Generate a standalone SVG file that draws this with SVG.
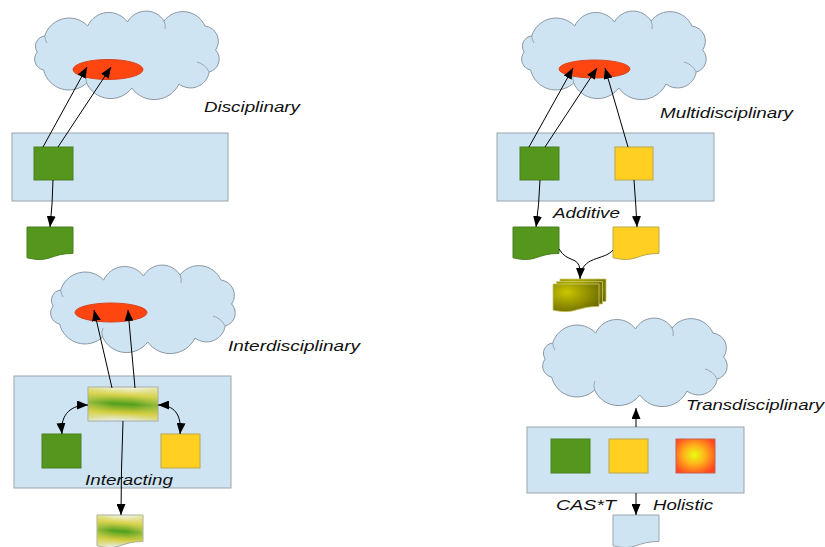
<svg xmlns="http://www.w3.org/2000/svg" xmlns:xlink="http://www.w3.org/1999/xlink" width="825" height="547" viewBox="0 0 825 547">
  <style>
    .cloud { fill: #cfe4f3; stroke: #8a97a3; stroke-width: 1; }
    .crease { fill: none; stroke: #8a97a3; stroke-width: 0.8; }
    .panel { fill: #cfe4f2; stroke: #9aa4ad; stroke-width: 1; }
    .core { fill: #ff4510; stroke: #d9441c; stroke-width: 1; }
    .green { fill: #55971d; stroke: #4b8020; stroke-width: 1; }
    .yellow { fill: #ffd022; stroke: #b9a64c; stroke-width: 1; }
    .hot { fill: url(#hotGrad); stroke: #c9604a; stroke-width: 1; }
    .mixed { fill: url(#mixGrad); stroke: #a4aaa6; stroke-width: 1; }
    .mixedEdge { fill: url(#mixEdge); stroke: none; }
    .plain { fill: #cfe4f2; stroke: #9aa4ad; stroke-width: 1; }
    .stack { fill: url(#oliveGrad); stroke: #c9c96a; stroke-width: 0.8; }
    .link { fill: none; stroke: #000; stroke-width: 1; }
    .label { font-family: "Liberation Sans", Arial, sans-serif; font-style: italic; font-size: 15.5px; fill: #111; }
  </style>
  <defs>
    <!-- cloud outline with inner creases, 185 x 88 box -->
    <g id="cloudShape">
      <path class="cloud" d="M9.7,24 A25.6,25.6 0 0 1 52.7,14 A23.2,23.2 0 0 1 92.5,10 A21.2,21.2 0 0 1 129,9 A23.9,23.9 0 0 1 169.9,14 A15.3,15.3 0 0 1 180.6,38 A13.3,13.3 0 0 1 174.2,60 A18.9,18.9 0 0 1 144,72 A27.5,27.5 0 0 1 96.8,76 A26.4,26.4 0 0 1 51.6,71 A26,26 0 0 1 8.6,58 A11.1,11.1 0 0 1 2.2,40 A10.3,10.3 0 0 1 9.7,24 Z"/>
      <path class="crease" d="M162,50 Q170,52 174.2,60"/>
      <path class="crease" d="M51.6,71 Q50,66 52,62"/>
      <path class="crease" d="M9.7,24 Q10,28 12,31"/>
      <path class="crease" d="M129,9 Q131,13 130,17"/>
    </g>
    <!-- flowchart document, 46 x 33 box -->
    <path id="docShape" d="M0,0 H46 V26.4 C23,26.4 23,36.5 0,30.8 Z"/>
    <!-- smaller document used in the stack -->
    <path id="docSmall" d="M0,0 H46 V22.4 C23,22.4 23,31 0,26.2 Z"/>
    <linearGradient id="mixGrad" x1="0" y1="0" x2="0" y2="1" gradientTransform="rotate(6 0.5 0.5)">
      <stop offset="0" stop-color="#f1f5e6"/>
      <stop offset="0.24" stop-color="#d9d34a"/>
      <stop offset="0.5" stop-color="#4f9f1e"/>
      <stop offset="0.76" stop-color="#d3cd3c"/>
      <stop offset="1" stop-color="#e9f0f0"/>
    </linearGradient>
    <linearGradient id="mixEdge" x1="0" y1="0" x2="1" y2="0">
      <stop offset="0" stop-color="#d8d45a" stop-opacity="0.5"/>
      <stop offset="0.35" stop-color="#d8d45a" stop-opacity="0"/>
      <stop offset="0.65" stop-color="#d8d45a" stop-opacity="0"/>
      <stop offset="1" stop-color="#d8d45a" stop-opacity="0.5"/>
    </linearGradient>
    <radialGradient id="hotGrad" cx="0.47" cy="0.47" r="0.62">
      <stop offset="0" stop-color="#e8ff10"/>
      <stop offset="0.45" stop-color="#ffb21a"/>
      <stop offset="1" stop-color="#ff4522"/>
    </radialGradient>
    <radialGradient id="oliveGrad" cx="0.3" cy="0.3" r="0.8">
      <stop offset="0" stop-color="#c9c600"/>
      <stop offset="1" stop-color="#6c6a00"/>
    </radialGradient>
    <marker id="arrow" viewBox="0 0 11 9" refX="11" refY="4.5" markerWidth="11" markerHeight="9" markerUnits="userSpaceOnUse" orient="auto-start-reverse">
      <path d="M0,0 L11,4.5 L0,9 Z" fill="#000"/>
    </marker>
  </defs>

  <!-- Disciplinary -->
  <g id="cloud-disciplinary">
    <use xlink:href="#cloudShape" transform="translate(35,12)"/>
    <ellipse class="core" cx="108" cy="69.5" rx="35" ry="10"/>
  </g>
  <g id="panel-disciplinary">
    <rect class="panel" x="12" y="133" width="216" height="68"/>
  </g>
  <g id="box-disciplinary">
    <rect class="green" x="34" y="147" width="39" height="33"/>
  </g>
  <g id="doc-disciplinary">
    <use xlink:href="#docShape" class="green" transform="translate(27,227)"/>
  </g>
  <g id="label-disciplinary">
    <text class="label" x="204" y="112" textLength="96" lengthAdjust="spacingAndGlyphs">Disciplinary</text>
  </g>

  <!-- Multidisciplinary -->
  <g id="cloud-multi">
    <use xlink:href="#cloudShape" transform="translate(522,12)"/>
    <ellipse class="core" cx="594.5" cy="69" rx="35.5" ry="9"/>
  </g>
  <g id="panel-multi">
    <rect class="panel" x="497" y="133" width="217" height="68"/>
  </g>
  <g id="box-multi-green">
    <rect class="green" x="520" y="147" width="39" height="33"/>
  </g>
  <g id="box-multi-yellow">
    <rect class="yellow" x="615" y="147" width="38" height="33"/>
  </g>
  <g id="doc-multi-green">
    <use xlink:href="#docShape" class="green" transform="translate(513,227)"/>
  </g>
  <g id="doc-multi-yellow">
    <use xlink:href="#docShape" class="yellow" transform="translate(613,227)"/>
  </g>
  <g id="doc-multi-stack">
    <use xlink:href="#docSmall" class="stack" transform="translate(560,279)"/>
    <use xlink:href="#docSmall" class="stack" transform="translate(556.5,281.5)"/>
    <use xlink:href="#docSmall" class="stack" transform="translate(553,284)"/>
  </g>
  <g id="label-multi">
    <text class="label" x="660" y="117.5" textLength="133" lengthAdjust="spacingAndGlyphs">Multidisciplinary</text>
    <text class="label" x="553" y="218" textLength="67" lengthAdjust="spacingAndGlyphs">Additive</text>
  </g>

  <!-- Interdisciplinary -->
  <g id="cloud-inter">
    <use xlink:href="#cloudShape" transform="translate(51,266)"/>
    <ellipse class="core" cx="111" cy="312.5" rx="36" ry="9.5"/>
  </g>
  <g id="panel-inter">
    <rect class="panel" x="14" y="376" width="217" height="112"/>
  </g>
  <g id="box-inter-mixed">
    <rect class="mixed" x="88" y="387" width="70" height="34"/>
    <rect class="mixedEdge" x="88.5" y="387.5" width="69" height="33"/>
  </g>
  <g id="box-inter-green">
    <rect class="green" x="42" y="434" width="39" height="34"/>
  </g>
  <g id="box-inter-yellow">
    <rect class="yellow" x="161" y="434" width="39" height="34"/>
  </g>
  <g id="doc-inter">
    <use xlink:href="#docShape" class="mixed" transform="translate(97,515)"/>
    <use xlink:href="#docShape" class="mixedEdge" transform="translate(97,515)"/>
  </g>
  <g id="label-inter">
    <text class="label" x="228" y="351" textLength="132" lengthAdjust="spacingAndGlyphs">Interdisciplinary</text>
    <text class="label" x="85" y="485" textLength="88" lengthAdjust="spacingAndGlyphs">Interacting</text>
  </g>

  <!-- Transdisciplinary -->
  <g id="cloud-trans">
    <use xlink:href="#cloudShape" transform="translate(543,319)"/>
  </g>
  <g id="panel-trans">
    <rect class="panel" x="527" y="427" width="217" height="66"/>
  </g>
  <g id="box-trans-green">
    <rect class="green" x="551" y="439" width="39" height="34"/>
  </g>
  <g id="box-trans-yellow">
    <rect class="yellow" x="609" y="439" width="39" height="34"/>
  </g>
  <g id="box-trans-hot">
    <rect class="hot" x="676" y="439" width="39" height="34"/>
  </g>
  <g id="doc-trans">
    <use xlink:href="#docShape" class="plain" transform="translate(613,515)"/>
  </g>
  <g id="label-trans">
    <text class="label" x="686" y="410" textLength="138" lengthAdjust="spacingAndGlyphs">Transdisciplinary</text>
    <text class="label" x="556" y="510" textLength="60" lengthAdjust="spacingAndGlyphs">CAS*T</text>
    <text class="label" x="653" y="510" textLength="60" lengthAdjust="spacingAndGlyphs">Holistic</text>
  </g>

  <!-- connectors -->
  <g id="connectors" class="link">
    <path class="link" d="M43,147 L87,67" marker-end="url(#arrow)"/>
    <path class="link" d="M58,147 L111,67" marker-end="url(#arrow)"/>
    <path class="link" d="M53,180 Q52.5,205 50,227" marker-end="url(#arrow)"/>

    <path class="link" d="M529,147 L573,68" marker-end="url(#arrow)"/>
    <path class="link" d="M545,147 L597,68" marker-end="url(#arrow)"/>
    <path class="link" d="M628,147 L605,68" marker-end="url(#arrow)"/>
    <path class="link" d="M540,180 Q539,206 536,227" marker-end="url(#arrow)"/>
    <path class="link" d="M634,180 Q636,206 637,227" marker-end="url(#arrow)"/>
    <path class="link" d="M559,249 C567,263 579,256 580,270"/>
    <path class="link" d="M613,250 C604,261 581,255 580,279" marker-end="url(#arrow)"/>

    <path class="link" d="M112,388 L94,310" marker-end="url(#arrow)"/>
    <path class="link" d="M135,388 L128,310" marker-end="url(#arrow)"/>
    <path class="link" d="M88,405 C72,405 60,413 62,434" marker-start="url(#arrow)" marker-end="url(#arrow)"/>
    <path class="link" d="M158,405 C174,405 182,414 180,434" marker-start="url(#arrow)" marker-end="url(#arrow)"/>
    <path class="link" d="M123,421 Q121,470 121,515" marker-end="url(#arrow)"/>

    <path class="link" d="M636,427 L636,408" marker-end="url(#arrow)"/>
    <path class="link" d="M636,493 L636,515" marker-end="url(#arrow)"/>
  </g>
</svg>
